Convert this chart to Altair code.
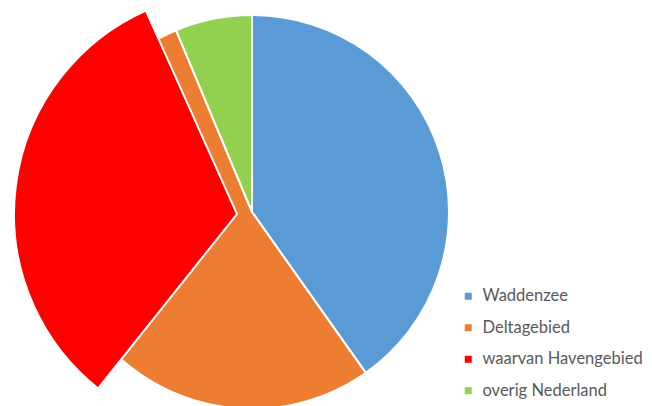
import math
import altair as alt
import pandas as pd

# Main pie (percent of total), clockwise from 12 o'clock
categories = ["Waddenzee", "Deltagebied", "overig Nederland"]
values = [40.2, 53.5, 6.3]

# Exploded sub-slice "waarvan Havengebied" (part of Deltagebied)
haven_label = "waarvan Havengebied"
haven_start = 60.7
haven_value = 32.6

legend_labels = ["Waddenzee", "Deltagebied", "waarvan Havengebied", "overig Nederland"]
legend_colors = ["#5B9BD5", "#ED7D31", "#FF0000", "#92D050"]

main_df = pd.DataFrame({"cat": categories, "value": values, "idx": list(range(len(categories)))})
haven_df = pd.DataFrame({"cat": [haven_label], "start": [haven_start],
                         "end": [haven_start + haven_value]})

theta_scale = alt.Scale(domain=[0, 100], range=[0, 2 * math.pi])
color_scale = alt.Scale(domain=legend_labels, range=legend_colors)

main = alt.Chart(main_df).mark_arc(radius=197, stroke="white", strokeWidth=2).encode(
    theta=alt.Theta("value:Q", stack=True, scale=theta_scale),
    order=alt.Order("idx:Q"),
    color=alt.Color("cat:N", scale=color_scale, title=None,
                    legend=alt.Legend(orient="none", legendX=452, legendY=280,
                                      symbolType="square", symbolSize=49,
                                      symbolStrokeWidth=0,
                                      labelFont="Lato", labelFontSize=16.5,
                                      labelColor="#595959", labelOffset=6,
                                      rowPadding=14.5, labelLimit=300)),
    x=alt.value(244),
    y=alt.value(204),
)

haven = alt.Chart(haven_df).mark_arc(radius=223, stroke="white", strokeWidth=2).encode(
    theta=alt.Theta("start:Q", scale=theta_scale),
    theta2="end:Q",
    color=alt.Color("cat:N", scale=color_scale),
    x=alt.value(229),
    y=alt.value(206),
)

chart = alt.layer(main, haven).properties(
    width=636, height=398, padding=0, autosize="none"
).configure_view(stroke=None)

chart.save("out.html", embed_options={"renderer": "svg", "actions": False})
